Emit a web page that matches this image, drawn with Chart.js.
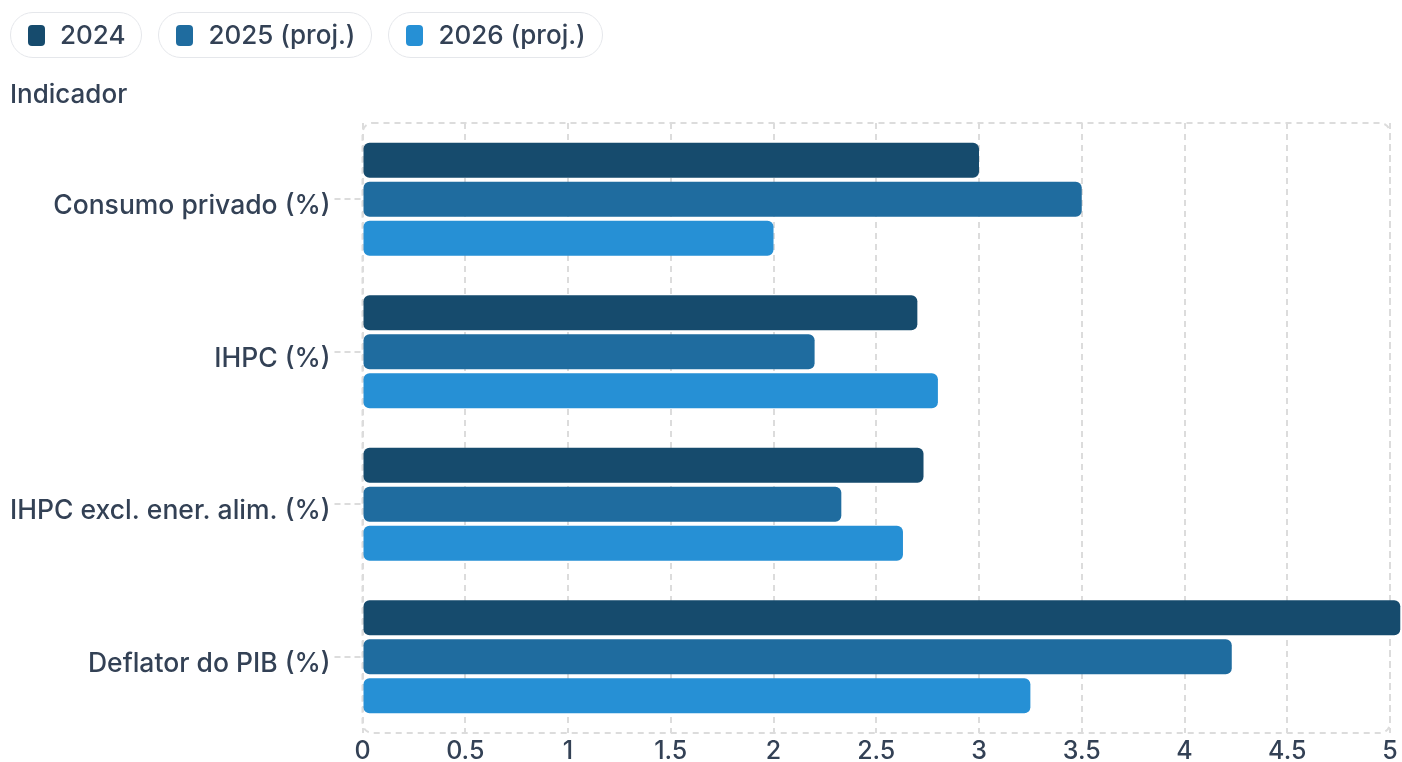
<!DOCTYPE html>
<html lang="pt">
<head>
<meta charset="utf-8">
<title>Indicadores de preços e consumo</title>
<script src="https://cdn.jsdelivr.net/npm/chart.js@4"></script>
<style>
  html, body { margin: 0; padding: 0; background: #ffffff; }
  body { width: 1402px; height: 762px; position: relative; overflow: hidden;
         font-family: Inter, "Noto Sans", sans-serif; color: #334155; }
  #legend { position: absolute; left: 10px; top: 12px; display: flex; gap: 16px; }
  .pill { display: flex; align-items: center; height: 44px; padding: 0 16px 0 17px;
          border: 1px solid #e5e7eb; border-radius: 23px; box-sizing: content-box;
          font-size: 26px; font-weight: 500; line-height: 1; }
  .swatch { width: 17px; height: 21px; border-radius: 4px; margin-right: 15px; }
  #ytitle { position: absolute; left: 10px; top: 79px; font-size: 26px; font-weight: 500; line-height: 30px; }
  #wrap { position: absolute; left: 0; top: 0; width: 1402px; height: 762px; }
</style>
</head>
<body>
<div id="wrap"><canvas id="chart" width="1402" height="762"></canvas></div>
<div id="legend"></div>
<div id="ytitle">Indicador</div>
<script>
// Indicators and yearly rates (%)
const categories = ['Consumo privado (%)', 'IHPC (%)', 'IHPC excl. ener. alim. (%)', 'Deflator do PIB (%)'];
const seriesNames = ['2024', '2025 (proj.)', '2026 (proj.)'];
const values2024 = [3.0, 2.7, 2.73, 5.05];
const values2025 = [3.5, 2.2, 2.33, 4.23];
const values2026 = [2.0, 2.8, 2.63, 3.25];
const xTicks = [0, 0.5, 1, 1.5, 2, 2.5, 3, 3.5, 4, 4.5, 5];
const colors = ['#164b6d', '#1f6c9f', '#2690d5'];

const textColor = '#334155';
const gridColor = '#dcdcdc';
const fontFamily = 'Inter, "Noto Sans", sans-serif';
const dash = [6, 5];

// HTML legend with pill-shaped entries
const legendEl = document.getElementById('legend');
seriesNames.forEach((name, i) => {
  const pill = document.createElement('div');
  pill.className = 'pill';
  const sw = document.createElement('span');
  sw.className = 'swatch';
  sw.style.background = colors[i];
  const label = document.createElement('span');
  label.textContent = name;
  pill.appendChild(sw);
  pill.appendChild(label);
  legendEl.appendChild(pill);
});

// Dashed, rounded frame around the plotting area
const framePlugin = {
  id: 'roundedFrame',
  beforeDatasetsDraw(chart) {
    const { ctx, chartArea: a } = chart;
    ctx.save();
    ctx.strokeStyle = gridColor;
    ctx.lineWidth = 2;
    ctx.setLineDash(dash);
    ctx.beginPath();
    ctx.roundRect(a.left, a.top, a.right - a.left, a.bottom - a.top, 10);
    ctx.stroke();
    ctx.restore();
  }
};

const seriesValues = [values2024, values2025, values2026];

new Chart(document.getElementById('chart'), {
  type: 'bar',
  data: {
    labels: categories,
    datasets: seriesNames.map((name, i) => ({
      label: name,
      data: seriesValues[i],
      backgroundColor: colors[i],
      borderRadius: 6,
      borderSkipped: false,
      barPercentage: 0.9,
      categoryPercentage: 0.767,
      clip: false
    }))
  },
  options: {
    indexAxis: 'y',
    responsive: false,
    animation: false,
    layout: { padding: { top: 123, right: 12, left: 0, bottom: 0 } },
    plugins: {
      legend: { display: false },
      tooltip: { enabled: false }
    },
    scales: {
      x: {
        min: 0,
        max: 5,
        afterBuildTicks(scale) { scale.ticks = xTicks.map(v => ({ value: v })); },
        afterFit(scale) { scale.height = 29; },
        border: { display: false, dash: dash },
        grid: { color: gridColor, lineWidth: 2, drawTicks: false },
        ticks: {
          color: textColor, padding: 3,
          font: { family: fontFamily, size: 25, weight: 500 },
          maxRotation: 0, autoSkip: false,
          callback: (v) => String(v)
        }
      },
      y: {
        afterFit(scale) { scale.width = 362.5; },
        border: { display: false },
        grid: {
          drawOnChartArea: false, offset: false, color: gridColor, lineWidth: 2,
          tickLength: 28, tickBorderDash: [6, 4]
        },
        ticks: {
          color: textColor, padding: 4, labelOffset: 7,
          font: { family: fontFamily, size: 26.5, weight: 500 }
        }
      }
    }
  },
  plugins: [framePlugin]
});
</script>
</body>
</html>
